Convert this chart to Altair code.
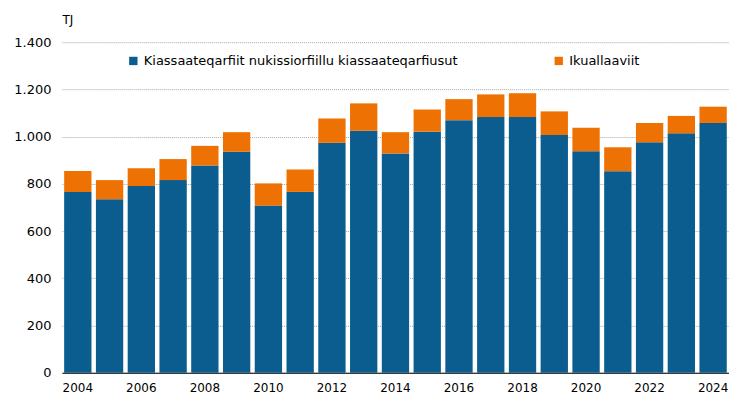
import altair as alt
import pandas as pd

years = list(range(2004, 2025))
blue = [766, 735, 791, 816, 878, 936, 708, 766, 974, 1025, 929, 1021, 1070, 1083, 1083, 1007, 938, 854, 976, 1014, 1058]
total = [855, 816, 866, 905, 961, 1019, 802, 861, 1077, 1141, 1019, 1115, 1159, 1179, 1184, 1107, 1038, 955, 1058, 1088, 1127]
s1 = "Kiassaateqarfiit nukissiorfiillu kiassaateqarfiusut"
s2 = "Ikuallaaviit"

rows = []
for y, b, t in zip(years, blue, total):
    rows.append({"year": str(y), "series": s1, "value": b, "ord": 0})
    rows.append({"year": str(y), "series": s2, "value": t - b, "ord": 1})
df = pd.DataFrame(rows)

chart = alt.Chart(df).mark_bar().encode(
    x=alt.X("year:O", title=None,
            scale=alt.Scale(paddingInner=0.14, paddingOuter=0.07),
            axis=alt.Axis(labelAngle=0, labelExpr="toNumber(datum.value) % 2 == 0 ? datum.value : ''",
                          ticks=False, domainColor="#000000", labelPadding=10, labelFontSize=12)),
    y=alt.Y("value:Q", stack="zero", title="TJ",
            scale=alt.Scale(domain=[0, 1400]),
            axis=alt.Axis(values=[0, 200, 400, 600, 800, 1000, 1200, 1400],
                          labelExpr="replace(format(datum.value, ','), ',', '.')",
                          domain=False, ticks=False, gridColor="#a6a6a6", gridDash=[1, 1],
                          titleAngle=0, titleAlign="left", titleX=0, titleY=-16,
                          titleFontWeight="normal", labelPadding=11, labelFontSize=13)),
    color=alt.Color("series:N", scale=alt.Scale(domain=[s1, s2], range=["#0b5d8f", "#ee7203"]),
                    legend=alt.Legend(title=None, orient="none", direction="horizontal",
                                      legendX=65, legendY=12, symbolType="square", symbolSize=70,
                                      columnPadding=94, labelFontSize=13, labelLimit=500)),
    order=alt.Order("ord:Q"),
).properties(width=668, height=331,
             padding={"left": 5, "top": 5, "right": 0, "bottom": 5}).configure_view(stroke=None).configure_axis(
    labelFont="DejaVu Sans", titleFont="DejaVu Sans", titleFontSize=12,
    labelColor="#000000", titleColor="#000000"
).configure_legend(labelFont="DejaVu Sans", labelColor="#000000")

chart.save("out.html", embed_options={"renderer": "svg", "actions": False})
